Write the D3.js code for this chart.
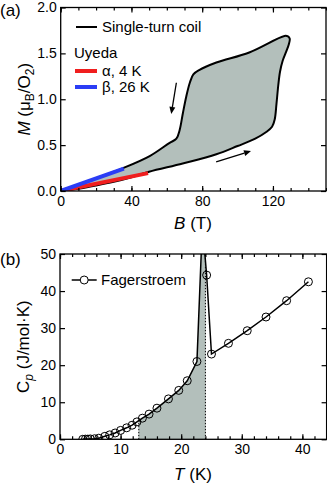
<!DOCTYPE html>
<html><head><meta charset="utf-8">
<script src="https://cdn.jsdelivr.net/npm/d3@7"></script>
<style>body{margin:0;background:#fff} svg{display:block;font-family:"Liberation Sans",Arial,sans-serif}</style>
</head><body><svg id="c" width="327" height="484"></svg>
<script>
// ---------- Panel (a) data ----------
const loopB = [0,10,20,30,40,50,69,88,100,110,116,119.5,121,122,123,124,125.5,127.5,129,129.5,128.5,126.5,
               106.6,88,78.5,75,73,71,69.1,67.2,65.4,61.6,50.3,35.3,20,10,0];
const loopM = [0,0.025,0.06,0.1,0.15,0.21,0.30,0.40,0.49,0.57,0.64,0.70,0.78,0.95,1.15,1.30,1.42,1.52,1.60,1.66,1.685,1.69,
               1.51,1.40,1.32,1.27,1.18,1.03,0.85,0.66,0.57,0.525,0.38,0.25,0.14,0.07,0];
const alphaB = [0,49.4], alphaM = [0,0.195];
const betaB = [0,35.7], betaM = [0,0.245];
const arrowDownB = [65.4,62.5], arrowDownM = [1.18,0.84];
const arrowUpB = [87.9,107.6], arrowUpM = [0.317,0.436];
const aXTicks = [0,40,80,120], aXMinor = d3.range(0,151,10);
const aYTicks = [0,0.5,1.0,1.5,2.0];
const aLegend = ["Single-turn coil","Uyeda","α, 4 K","β, 26 K"];
// ---------- Panel (b) data ----------
const cpT = [3.75,4.2,4.6,5.0,5.7,6.4,7.4,8.2,9.1,10.0,11.0,11.9,12.7,13.6,14.7,16.0,17.9,19.6,21.0,22.6,23.5,24.2,25.0,27.8,30.9,34.0,37.4,41.0];
const cpC = [0.0,0.05,0.05,0.1,0.15,0.3,0.8,1.2,1.7,2.4,3.1,3.8,4.7,5.7,6.8,8.4,10.9,13.2,15.8,21.0,58,44.3,23.0,25.9,29.3,33.0,37.4,42.5];
const shadeT = [13,24];
const bXTicks = [0,10,20,30,40], bXMinor = d3.range(0,45,2);
const bYTicks = [0,10,20,30,40,50];
const bLegend = ["Fagerstroem"];

const svg = d3.select("#c");
const FILL = "#b3bfbb";
const TICKF = 14;

function frameAxes(g, x, y, xMaj, xMin, yMaj, fmtX, fmtY, W, H){
  g.append("g").attr("transform",`translate(0,${H})`)
    .call(d3.axisBottom(x).tickValues(xMin).tickSize(-3).tickFormat(""));
  g.append("g").attr("transform",`translate(0,${H})`)
    .call(d3.axisBottom(x).tickValues(xMaj).tickSize(-5).tickPadding(5).tickFormat(fmtX));
  g.append("g").call(d3.axisTop(x).tickValues(xMin).tickSize(-3).tickFormat(""));
  g.append("g").call(d3.axisTop(x).tickValues(xMaj).tickSize(-5).tickFormat(""));
  g.append("g").call(d3.axisLeft(y).tickValues(yMaj).tickSize(-5).tickPadding(4).tickFormat(fmtY));
  g.append("g").attr("transform",`translate(${W},0)`)
    .call(d3.axisRight(y).tickValues(yMaj).tickSize(-5).tickFormat(""));
  g.selectAll(".domain").remove();
  g.selectAll(".tick line").attr("stroke","#000").attr("stroke-width",1.2);
  g.selectAll(".tick text").attr("font-size",TICKF).attr("fill","#000").attr("font-family","Liberation Sans, Arial, sans-serif");
  g.append("rect").attr("width",W).attr("height",H).attr("fill","none").attr("stroke","#000").attr("stroke-width",1.3);
}

// ================= Panel (a) =================
{
  const L=60.7, T=7.5, W=326-60.7, H=191-7.5;
  const x = d3.scaleLinear().domain([0,150]).range([0,W]);
  const y = d3.scaleLinear().domain([0,2]).range([H,0]);
  const g = svg.append("g").attr("transform",`translate(${L},${T})`);
  g.append("defs").append("clipPath").attr("id","clipA").append("rect").attr("width",W).attr("height",H);
  const pts = loopB.map((b,i)=>[b,loopM[i]]);
  const line = d3.line().x(d=>x(d[0])).y(d=>y(d[1])).curve(d3.curveCatmullRom.alpha(0.5));
  const pg = g.append("g").attr("clip-path","url(#clipA)");
  pg.append("path").attr("d",line(pts)).attr("fill",FILL).attr("stroke","#000").attr("stroke-width",2).attr("stroke-linejoin","round");
  const sl = d3.line().x(d=>x(d[0])).y(d=>y(d[1]));
  pg.append("path").attr("d",sl(alphaB.map((b,i)=>[b,alphaM[i]]))).attr("stroke","#f01e1e").attr("stroke-width",4).attr("fill","none");
  pg.append("path").attr("d",sl(betaB.map((b,i)=>[b,betaM[i]]))).attr("stroke","#2b3df5").attr("stroke-width",4).attr("fill","none");
  function arrow(bs,ms){
    const x1=x(bs[0]),y1=y(ms[0]),x2=x(bs[1]),y2=y(ms[1]);
    const ang=Math.atan2(y2-y1,x2-x1), hl=7, hw=3;
    const bx=x2-hl*Math.cos(ang), by=y2-hl*Math.sin(ang);
    g.append("line").attr("x1",x1).attr("y1",y1).attr("x2",bx).attr("y2",by).attr("stroke","#000").attr("stroke-width",1.3);
    g.append("path").attr("d",`M${x2},${y2}L${bx+hw*Math.sin(ang)},${by-hw*Math.cos(ang)}L${bx-hw*Math.sin(ang)},${by+hw*Math.cos(ang)}Z`).attr("fill","#000");
  }
  arrow(arrowDownB,arrowDownM);
  arrow(arrowUpB,arrowUpM);
  frameAxes(g,x,y,aXTicks,aXMinor,aYTicks,d3.format("d"),d3.format(".1f"),W,H);
  const lg = svg.append("g").attr("font-size",15);
  lg.append("line").attr("x1",76).attr("x2",97).attr("y1",27).attr("y2",27).attr("stroke","#000").attr("stroke-width",2);
  lg.append("text").attr("x",102).attr("y",32).text(aLegend[0]);
  lg.append("text").attr("x",74).attr("y",58).text(aLegend[1]);
  lg.append("line").attr("x1",75).attr("x2",97).attr("y1",71).attr("y2",71).attr("stroke","#f01e1e").attr("stroke-width",4);
  lg.append("text").attr("x",102).attr("y",76).text(aLegend[2]);
  lg.append("line").attr("x1",75).attr("x2",97).attr("y1",87).attr("y2",87).attr("stroke","#2b3df5").attr("stroke-width",4);
  lg.append("text").attr("x",102).attr("y",92).text(aLegend[3]);
  const xt = svg.append("text").attr("x",193).attr("y",229).attr("text-anchor","middle").attr("font-size",17);
  xt.append("tspan").attr("font-style","italic").text("B");
  xt.append("tspan").text(" (T)");
  const yt = svg.append("text").attr("transform",`translate(30,${T+H/2}) rotate(-90)`).attr("text-anchor","middle").attr("font-size",17);
  yt.append("tspan").attr("font-style","italic").text("M");
  yt.append("tspan").text(" (μ");
  yt.append("tspan").attr("font-size",12).attr("dy",4).text("B");
  yt.append("tspan").attr("dy",-4).text("/O");
  yt.append("tspan").attr("font-size",12).attr("dy",4).text("2");
  yt.append("tspan").attr("dy",-4).text(")");
  svg.append("text").attr("x",0).attr("y",16).attr("font-size",17).text("(a)");
}

// ================= Panel (b) =================
{
  const L=60, T=254, W=326.6-60, H=439.3-254;
  const x = d3.scaleLinear().domain([0,44]).range([0,W]);
  const y = d3.scaleLinear().domain([0,50]).range([H,0]);
  const g = svg.append("g").attr("transform",`translate(${L},${T})`);
  const defs = g.append("defs");
  defs.append("clipPath").attr("id","clipB").append("rect").attr("width",W).attr("height",H);
  defs.append("clipPath").attr("id","clipShade").append("rect")
    .attr("x",x(shadeT[0])).attr("width",x(shadeT[1])-x(shadeT[0])).attr("height",H);
  const pts = cpT.map((t,i)=>[t,cpC[i]]);
  const pg = g.append("g").attr("clip-path","url(#clipB)");
  const area = d3.area().x(d=>x(d[0])).y0(y(0)).y1(d=>y(d[1]));
  pg.append("g").attr("clip-path","url(#clipShade)").append("path").attr("d",area(pts)).attr("fill",FILL);
  const interp = t=>{ for(let i=0;i<cpT.length-1;i++){ if(t>=cpT[i]&&t<=cpT[i+1]) return cpC[i]+(cpC[i+1]-cpC[i])*(t-cpT[i])/(cpT[i+1]-cpT[i]); } return 0; };
  pg.append("line").attr("x1",x(shadeT[0])).attr("x2",x(shadeT[0])).attr("y1",y(0)).attr("y2",y(interp(shadeT[0])))
    .attr("stroke","#000").attr("stroke-width",1).attr("stroke-dasharray","1.5,1.5");
  pg.append("line").attr("x1",x(shadeT[1])).attr("x2",x(shadeT[1])).attr("y1",y(0)).attr("y2",0)
    .attr("stroke","#000").attr("stroke-width",1).attr("stroke-dasharray","1.5,1.5");
  const line = d3.line().x(d=>x(d[0])).y(d=>y(d[1]));
  pg.append("path").attr("d",line(pts)).attr("fill","none").attr("stroke","#000").attr("stroke-width",1.5);
  pg.selectAll("circle.pt").data(pts).join("circle").attr("class","pt")
    .attr("cx",d=>x(d[0])).attr("cy",d=>y(d[1])).attr("r",4).attr("fill","none").attr("stroke","#000").attr("stroke-width",1);
  frameAxes(g,x,y,bXTicks,bXMinor,bYTicks,d3.format("d"),d3.format("d"),W,H);
  const lg = svg.append("g").attr("font-size",15);
  lg.append("line").attr("x1",71.7).attr("x2",96.7).attr("y1",280).attr("y2",280).attr("stroke","#000").attr("stroke-width",1.5);
  lg.append("circle").attr("cx",84.2).attr("cy",280).attr("r",4).attr("fill","#fff").attr("stroke","#000").attr("stroke-width",1);
  lg.append("text").attr("x",101).attr("y",285).text(bLegend[0]);
  const xt = svg.append("text").attr("x",193).attr("y",480).attr("text-anchor","middle").attr("font-size",17);
  xt.append("tspan").attr("font-style","italic").text("T");
  xt.append("tspan").text(" (K)");
  const yt = svg.append("text").attr("transform",`translate(29,${T+H/2}) rotate(-90)`).attr("text-anchor","middle").attr("font-size",17);
  yt.append("tspan").text("C");
  yt.append("tspan").attr("font-size",12).attr("font-style","italic").attr("dy",4).text("p");
  yt.append("tspan").attr("dy",-4).text(" (J/mol·K)");
  svg.append("text").attr("x",0).attr("y",265).attr("font-size",17).text("(b)");
}
</script></body></html>
